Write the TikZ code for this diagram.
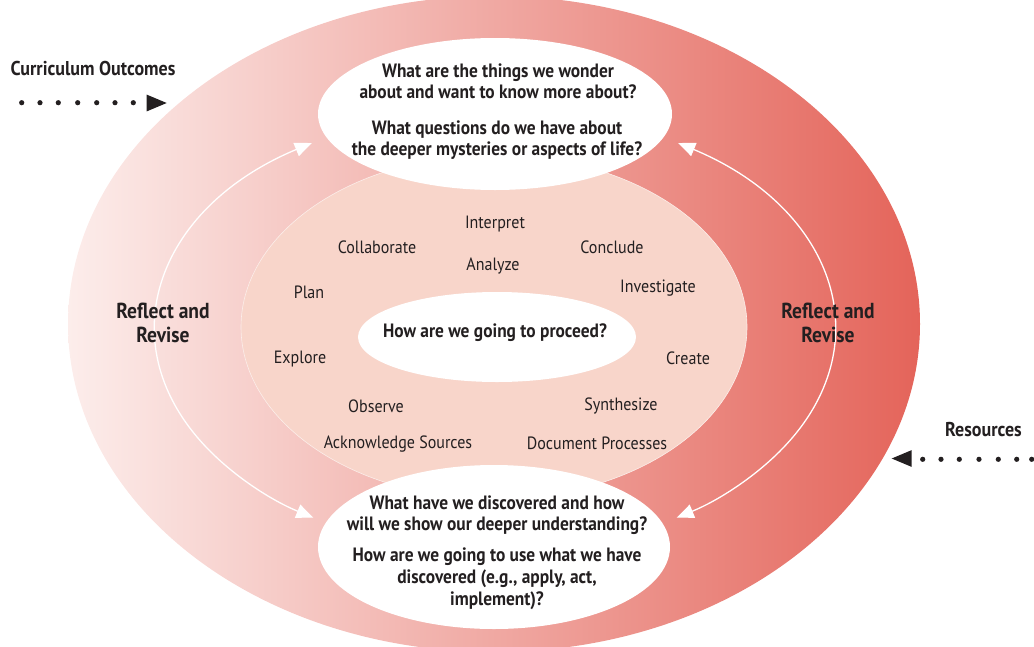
\documentclass[tikz,border=0pt]{standalone}
\usepackage{fontspec}
\setmainfont{PT Sans}[FakeStretch=0.9]
\usetikzlibrary{shapes.geometric,arrows.meta}
\definecolor{lightend}{HTML}{FCEDEB}
\definecolor{darkend}{HTML}{E4645A}
\definecolor{innerfill}{HTML}{F8D5CA}
\definecolor{txt}{HTML}{231F20}
\begin{document}
\begin{tikzpicture}[x=1pt,y=-1pt,
  oval/.style={ellipse, fill=white, inner sep=0pt},
  q/.style={text=txt, font=\bfseries\fontsize{19.3}{21}\selectfont, align=center, inner sep=0pt},
  wd/.style={text=txt, font=\fontsize{17.8}{20}\selectfont, inner sep=0pt},
  rr/.style={text=txt, font=\bfseries\fontsize{21.7}{24.5}\selectfont, align=center, inner sep=0pt},
  lbl/.style={text=txt, font=\bfseries\fontsize{20}{22}\selectfont, inner sep=0pt},
  cyc/.style={white, line width=1.3pt, {Triangle[length=17pt,width=14pt]}-{Triangle[length=17pt,width=14pt]}},
  dot/.style={circle, fill=txt, inner sep=0pt, minimum size=5.2pt}]
\useasboundingbox (0,0) rectangle (1034,646);
\begin{scope}
  \clip (0,0) rectangle (1034,646);
  \shade[left color=lightend, right color=darkend] (494,324) ellipse [x radius=426, y radius=328];
\end{scope}
% inner peach ellipse
\node[ellipse, fill=innerfill, draw=white!60!innerfill, line width=0.6pt, minimum width=506pt, minimum height=344pt, inner sep=0pt] (inner) at (494,327) {};
% white ovals
\node[oval, minimum width=354pt, minimum height=152pt] (top) at (495,114) {};
\node[oval, minimum width=352pt, minimum height=164pt] (bot) at (494,547) {};
\node[oval, minimum width=278pt, minimum height=90pt] (mid) at (497,337) {};

% cycle arcs
\coordinate (lt) at (311.8,143.0);
\coordinate (rt) at (678.2,143.0);
\draw[cyc] (lt) arc[start angle=237.4, end angle=122.3, x radius=340, y radius=222];
\draw[cyc] (rt) arc[start angle=-57.4, end angle=57.7, x radius=340, y radius=222];

% top questions
\node[q] (tq1) at (498,81) {What are the things we wonder\\about and want to know more about?};
\node[q] (tq2) at (497,140.5) {What questions do we have about\\the deeper mysteries or aspects of life?};
% middle
\node[q] (mq) at (495,333) {How are we going to proceed?};
% bottom questions
\node[q] (bq1) at (497,515) {What have we discovered and how\\will we show our deeper understanding?};
\node[q, font=\bfseries\fontsize{19.3}{22}\selectfont] (bq2) at (497,578.5) {How are we going to use what we have\\discovered (e.g., apply, act,\\implement)?};

% process words
\node[wd] (w1) at (495,224) {Interpret};
\node[wd] (w2) at (377,247) {Collaborate};
\node[wd] (w3) at (612,247) {Conclude};
\node[wd] (w4) at (493,266) {Analyze};
\node[wd] (w5) at (309,292) {Plan};
\node[wd] (w6) at (658,288) {Investigate};
\node[wd] (w7) at (300,359) {Explore};
\node[wd] (w8) at (688,358) {Create};
\node[wd] (w9) at (376,406) {Observe};
\node[wd] (w10) at (621,406) {Synthesize};
\node[wd] (w11) at (398,444) {Acknowledge Sources};
\node[wd] (w12) at (597,443) {Document Processes};

% reflect and revise
\node[rr] (rl) at (163,323) {Reflect and\\Revise};
\node[rr] (rrt) at (828,323) {Reflect and\\Revise};

% curriculum outcomes
\node[lbl] (co) at (93,68) {Curriculum Outcomes};
\foreach \x [count=\i] in {21.7,40,58.3,77.7,96.7,115,133.3}
  \node[dot] (cd\i) at (\x,102.7) {};
\coordinate (ctip) at (166.7,103);
\fill[txt] (ctip) -- ++(-20,-8.4) -- ++(0,16.8) -- cycle;

% resources
\node[lbl] (rs) at (983.5,430) {Resources};
\foreach \x [count=\i] in {922.7,941,959.3,979,998.3,1016.7,1031.7}
  \node[dot] (rd\i) at (\x,459.3) {};
\coordinate (rtip) at (891.7,458.5);
\fill[txt] (rtip) -- ++(20,-8.4) -- ++(0,16.8) -- cycle;
\end{tikzpicture}
\end{document}
